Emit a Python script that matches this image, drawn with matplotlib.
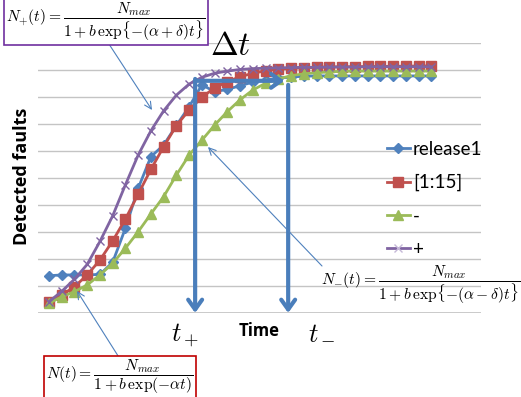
import matplotlib
matplotlib.use("Agg")
import matplotlib.pyplot as plt
import numpy as np

plt.rcParams["mathtext.fontset"] = "cm"

W, H = 521, 397

# detected faults per time step, in gridline units (axis 0..10)
steps = np.arange(1, 32)
release1 = [1.38, 1.41, 1.41, 1.41, 1.43, 1.88, 3.14, 4.62, 5.79, 6.22, 6.95,
            7.64, 8.45, 8.2, 8.28, 8.42, 8.55, 8.63, 8.7, 8.74, 8.77, 8.78,
            8.78, 8.78, 8.78, 8.78, 8.78, 8.78, 8.78, 8.78, 8.78]
fit_1_15 = [0.42, 0.67, 0.97, 1.41, 1.96, 2.67, 3.48, 4.40, 5.32, 6.16, 6.94,
            7.52, 7.99, 8.34, 8.57, 8.75, 8.88, 8.97, 9.03, 9.06, 9.08, 9.1,
            9.11, 9.12, 9.12, 9.13, 9.13, 9.14, 9.14, 9.15, 9.15]
minus = [0.36, 0.6, 0.79, 1.04, 1.41, 1.84, 2.40, 3.01, 3.67, 4.31, 5.11,
         5.85, 6.4, 6.96, 7.46, 7.9, 8.26, 8.51, 8.67, 8.79, 8.86, 8.9,
         8.93, 8.95, 8.96, 8.96, 8.96, 8.96, 8.96, 8.96, 8.96]
plus = [0.42, 0.8, 1.25, 1.8, 2.65, 3.6, 4.75, 5.85, 6.75, 7.49, 8.07,
        8.48, 8.73, 8.88, 8.96, 9.02, 9.05, 9.07, 9.08, 9.09, 9.1, 9.1,
        9.11, 9.11, 9.11, 9.12, 9.12, 9.12, 9.12, 9.12, 9.12]

t_plus, t_minus = 12.47, 19.77


def fig_xy(px, py):
    return px / W, 1 - py / H


fig = plt.figure(figsize=(W / 100, H / 100), dpi=100)
ax = fig.add_axes([38 / W, 1 - 313 / H, (481 - 38) / W, (313 - 43) / H])
ax.set_xlim(0.14, 34.9)
ax.set_ylim(0, 10)
for s in ax.spines.values():
    s.set_visible(False)
ax.set_xticks([])
ax.set_yticks(np.arange(0, 11))
ax.tick_params(axis="y", length=0, labelleft=False)
ax.grid(axis="y", color="#c4c4c4", lw=1)
ax.axhline(0, color="#c4c4c4", lw=1.2)

ax.plot(steps, release1, color="#4F81BD", lw=2, marker="D", ms=5, label="release1")
ax.plot(steps, fit_1_15, color="#C0504D", lw=2, marker="s", ms=6.5, label="[1:15]")
ax.plot(steps, minus, color="#9BBB59", lw=2, marker="^", ms=6.5, label="-")
ax.plot(steps, plus, color="#8064A2", lw=2, marker="x", ms=6, mew=1, label="+")

leg = ax.legend(loc="upper left", bbox_to_anchor=(0.77, 0.665), frameon=False,
                handlelength=1.25, handletextpad=0.15,
                labelspacing=0.86, borderaxespad=0, prop={"family": "Lato", "size": 13.5})
leg.legend_handles[3].set_markeredgecolor("#c5b8d8")

# delta-t arrows
arrow_kw = dict(arrowstyle="->,head_length=0.7,head_width=0.5", color="#4A7EBB",
                lw=3, shrinkA=0, shrinkB=0)
ax.annotate("", xy=(t_plus, 0), xytext=(t_plus, 8.67), arrowprops=arrow_kw,
            annotation_clip=False)
ax.annotate("", xy=(t_minus, 0), xytext=(t_minus, 8.45), arrowprops=arrow_kw,
            annotation_clip=False)
ax.annotate("", xy=(t_minus - 0.3, 8.6), xytext=(t_plus, 8.6), arrowprops=arrow_kw,
            annotation_clip=False)

fig.text(*fig_xy(230, 55), r"$\Delta t$", fontsize=24, ha="center", va="baseline")
fig.text(*fig_xy(185, 341), r"$t_+$", fontsize=19, ha="center", va="baseline")
fig.text(*fig_xy(322, 339), r"$t_-$", fontsize=19, ha="center", va="baseline")
fig.text(*fig_xy(259, 331), "Time", fontsize=12, fontweight="bold",
         ha="center", va="center", family="Open Sans")
fig.text(*fig_xy(22, 176), "Detected faults", fontsize=13, fontweight="bold",
         rotation=90, ha="center", va="center", family="Open Sans")

# formula callouts
lead_kw = dict(arrowstyle="->,head_length=0.5,head_width=0.25", color="#4F81BD",
               lw=0.8, shrinkA=0, shrinkB=0)
fig.text(*fig_xy(106, 22),
         r"$N_{+}(t)=\dfrac{N_{max}}{1+b\,\exp\!\{-(\alpha+\delta)t\}}$",
         fontsize=11.2, ha="center", va="center",
         bbox=dict(boxstyle="square,pad=0.12", fc="white", ec="#7030A0", lw=1.2))
fig.text(*fig_xy(421, 285),
         r"$N_{-}(t)=\dfrac{N_{max}}{1+b\,\exp\!\{-(\alpha-\delta)t\}}$",
         fontsize=11.2, ha="center", va="center")
fig.text(*fig_xy(120, 377),
         r"$N(t)=\dfrac{N_{max}}{1+b\,\exp(-\alpha t)}$",
         fontsize=11.2, ha="center", va="center",
         bbox=dict(boxstyle="square,pad=0.12", fc="white", ec="#C00000", lw=1.2))

for start, tip in [((107, 41), (152, 110)), ((322, 266), (208, 147)),
                   ((120, 359), (77, 291))]:
    fig.add_artist(matplotlib.patches.FancyArrowPatch(
        fig_xy(*start), fig_xy(*tip), transform=fig.transFigure, **lead_kw,
        mutation_scale=10))

fig.savefig("out.png", dpi=100)
